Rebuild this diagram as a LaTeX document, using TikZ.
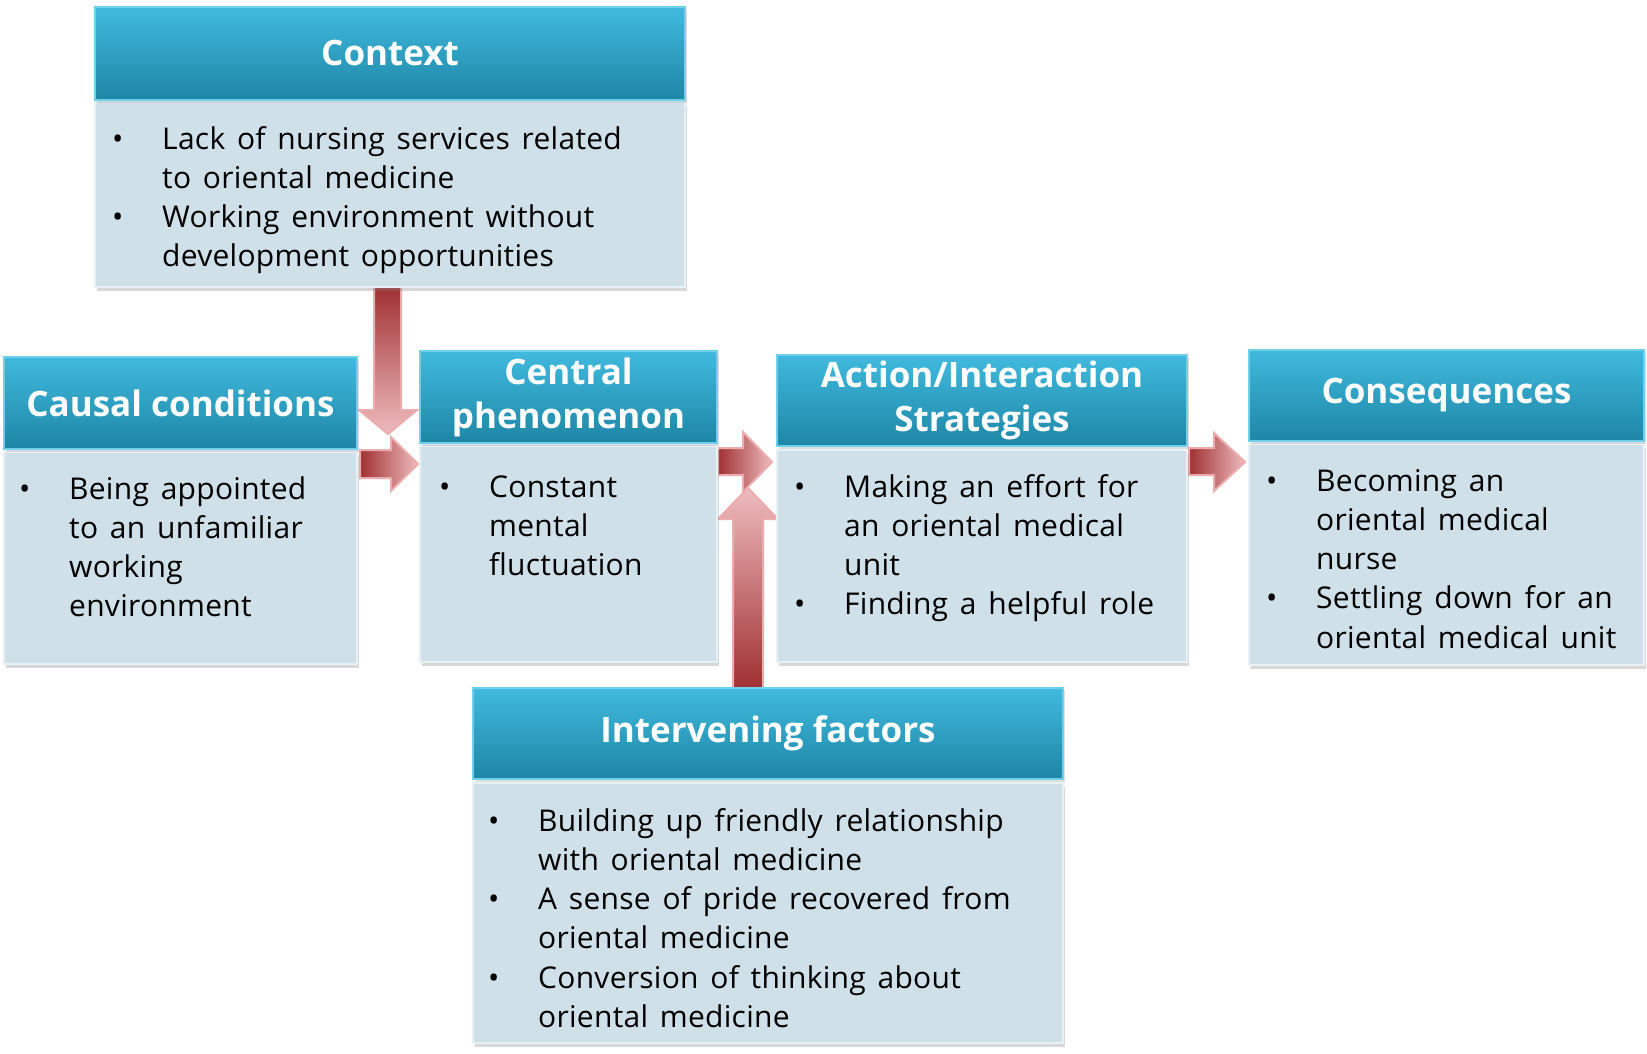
\documentclass[tikz,border=0pt]{standalone}
\usepackage{fontspec}
\setmainfont{Open Sans}
\newfontfamily\bodyfont{Open Sans}[LetterSpace=0.9, WordSpace=1.46]
\usetikzlibrary{shadows}
\definecolor{hdtop}{RGB}{64,186,222}
\definecolor{hdbot}{RGB}{30,134,166}
\definecolor{hdedge}{RGB}{110,208,234}
\definecolor{bdfill}{RGB}{208,224,232}
\definecolor{bdedge}{RGB}{232,241,245}
\definecolor{arrdark}{RGB}{160,48,50}
\definecolor{arrlight}{RGB}{238,188,190}
\definecolor{arredge}{RGB}{236,172,174}
\newlength{\bulw}
\setlength{\bulw}{50pt}
\newcommand{\BI}{\makebox[\bulw][l]{\textbullet}}
\newcommand{\IN}{\hspace*{\bulw}}
\tikzset{
  hdr/.style={draw=hdedge, line width=1.5pt, top color=hdtop, bottom color=hdbot,
    text=white, font=\fontsize{35}{44}\selectfont\bfseries, align=center, inner sep=0pt,
    drop shadow={opacity=0.25, shadow xshift=2pt, shadow yshift=-3pt}},
  bod/.style={draw=bdedge, line width=1.5pt, fill=bdfill, inner sep=0pt,
    drop shadow={opacity=0.3, shadow xshift=2pt, shadow yshift=-4pt}},
  txt/.style={anchor=north west, inner sep=0pt, align=left,
    font=\bodyfont\fontsize{30}{39.2}\selectfont, text=black},
  arr/.style={draw=arredge, line width=2pt, line join=miter}
}
\begin{document}
\begin{tikzpicture}[x=1pt, y=-1pt]
\useasboundingbox[fill=white] (0,0) rectangle (1647,1054);

% block arrows
\filldraw[arr, top color=arrdark, bottom color=arrlight]
  (374,287) -- (401,287) -- (401,410) -- (417,410) -- (388,434) -- (359,410) -- (374,410) -- cycle;
\filldraw[arr, left color=arrdark, right color=arrlight]
  (360,450) -- (391,450) -- (391,437) -- (418,464) -- (391,491) -- (391,478) -- (360,478) -- cycle;
\filldraw[arr, left color=arrdark, right color=arrlight]
  (718,448) -- (743,448) -- (743,432) -- (772,462) -- (743,492) -- (743,475) -- (718,475) -- cycle;
\filldraw[arr, bottom color=arrdark, top color=arrlight]
  (733,688) -- (733,519) -- (718,519) -- (748,488) -- (778,519) -- (763,519) -- (763,688) -- cycle;
\filldraw[arr, left color=arrdark, right color=arrlight]
  (1189,448) -- (1214,448) -- (1214,433) -- (1245,462) -- (1214,491) -- (1214,475) -- (1189,475) -- cycle;

% Context
\node[bod, minimum width=590pt, minimum height=185pt] (ctxb) at (390,194.5) {};
\node[hdr, minimum width=590pt, minimum height=93pt] (ctxh) at (390,53.5) {Context};
\node[txt] (ctxt) at (112,121.6) {\strut\BI Lack of nursing services related\\\IN to oriental medicine\\\BI Working environment without\\\IN development opportunities};

% Causal conditions
\node[bod, minimum width=353pt, minimum height=212pt] (caub) at (180.5,558) {};
\node[hdr, minimum width=353pt, minimum height=92pt] (cauh) at (180.5,403) {Causal conditions};
\node[txt] (caut) at (19,471.6) {\strut\BI Being appointed\\\IN to an unfamiliar\\\IN working\\\IN environment};

% Central phenomenon
\node[bod, minimum width=297pt, minimum height=216pt] (cenb) at (568.5,554) {};
\node[hdr, minimum width=297pt, minimum height=92pt] (cenh) at (568.5,397) {Central\\phenomenon};
\node[txt] (cent) at (439,469.6) {\strut\BI Constant\\\IN mental\\\IN fluctuation};

% Action/Interaction Strategies
\node[bod, minimum width=410pt, minimum height=212pt] (actb) at (982,556) {};
\node[hdr, minimum width=410pt, minimum height=91pt] (acth) at (982,400.5) {Action/Interaction\\Strategies};
\node[txt] (actt) at (794,469.6) {\strut\BI Making an effort for\\\IN an oriental medical\\\IN unit\\\BI Finding a helpful role};

% Consequences
\node[bod, minimum width=395pt, minimum height=221pt] (conb) at (1446.5,554.5) {};
\node[hdr, minimum width=395pt, minimum height=91pt] (conh) at (1446.5,395.5) {Consequences};
\node[txt] (cont) at (1266,463.6) {\strut\BI Becoming an\\\IN oriental medical\\\IN nurse\\\BI Settling down for an\\\IN oriental medical unit};

% Intervening factors
\node[bod, minimum width=590pt, minimum height=260pt] (intb) at (768,913) {};
\node[hdr, minimum width=590pt, minimum height=91pt] (inth) at (768,733.5) {Intervening factors};
\node[txt] (intt) at (488,803.6) {\strut\BI Building up friendly relationship\\\IN with oriental medicine\\\BI A sense of pride recovered from\\\IN oriental medicine\\\BI Conversion of thinking about\\\IN oriental medicine};
\end{tikzpicture}
\end{document}
